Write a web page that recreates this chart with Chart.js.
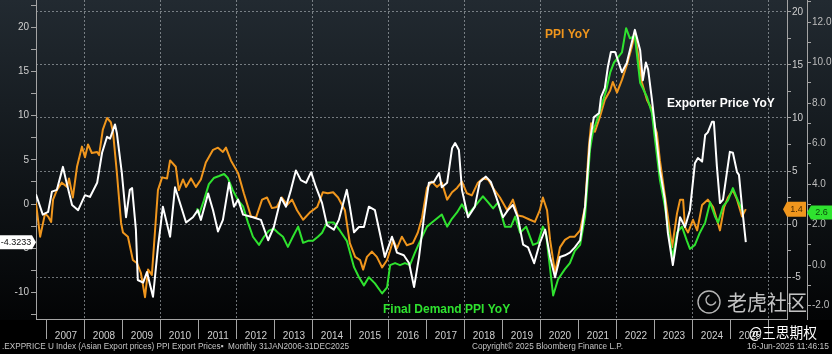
<!DOCTYPE html>
<html><head><meta charset="utf-8">
<script src="https://cdn.jsdelivr.net/npm/chart.js@4/dist/chart.umd.min.js"></script>
<style>html,body{margin:0;padding:0;background:#000;overflow:hidden}canvas{display:block}</style>
</head><body>
<canvas id="c" width="832" height="354"></canvas>
<script>
// ---- data (decimal years) ----
const exporterYears = [2006.71,2006.89,2007.03,2007.13,2007.26,2007.42,2007.50,2007.66,2007.82,2008.00,2008.13,2008.32,2008.45,2008.58,2008.66,2008.79,2008.84,2008.97,2009.08,2009.18,2009.24,2009.34,2009.39,2009.53,2009.63,2009.79,2009.92,2010.05,2010.24,2010.37,2010.66,2010.84,2010.97,2011.05,2011.24,2011.37,2011.50,2011.63,2011.79,2011.92,2012.03,2012.16,2012.42,2012.63,2012.82,2012.97,2013.16,2013.29,2013.42,2013.55,2013.68,2013.82,2013.95,2014.08,2014.24,2014.37,2014.55,2014.68,2014.89,2014.97,2015.08,2015.21,2015.34,2015.47,2015.63,2015.76,2015.89,2016.08,2016.21,2016.39,2016.53,2016.66,2016.79,2016.92,2017.05,2017.18,2017.32,2017.39,2017.53,2017.66,2017.74,2017.84,2017.92,2018.08,2018.26,2018.39,2018.55,2018.68,2018.82,2019.00,2019.13,2019.26,2019.39,2019.53,2019.66,2019.82,2019.97,2020.11,2020.24,2020.37,2020.50,2020.63,2020.76,2020.89,2021.03,2021.16,2021.29,2021.39,2021.53,2021.58,2021.68,2021.76,2021.84,2021.95,2022.13,2022.26,2022.47,2022.61,2022.68,2022.76,2022.82,2022.92,2023.05,2023.13,2023.26,2023.34,2023.47,2023.66,2023.79,2023.92,2024.05,2024.13,2024.24,2024.32,2024.39,2024.50,2024.55,2024.63,2024.71,2024.79,2024.97,2025.05,2025.16,2025.21,2025.29,2025.39];
const exporterValues = [1.1,-1.2,-0.9,1.4,1.6,4.2,2.7,-0.1,-0.7,1.0,0.8,2.4,5.8,7.6,7.4,9.0,8.0,3.5,-1.5,1.6,1.8,-2.9,-8.6,-8.9,-7.7,-10.5,-4.9,-0.3,-3.7,1.9,-2.1,-1.5,-0.7,-1.8,1.2,-0.7,-3.1,-1.8,2.4,-0.3,0.5,-1.2,-1.5,-1.8,-4.1,-2.6,0.7,-0.3,1.6,3.8,2.7,2.4,3.6,1.9,0.1,-2.4,-2.9,-1.8,1.6,-0.3,-3.2,-2.6,-2.6,-0.3,-0.7,-3.3,-6.0,-3.7,-5.5,-5.8,-6.7,-9.4,-6.0,-1.5,2.4,2.5,3.5,1.9,2.4,6.3,6.9,6.1,1.6,-1.5,-0.3,2.5,3.1,2.5,0.8,-1.5,-0.7,-0.1,-1.5,-4.6,-4.9,-6.7,-4.4,-2.9,-6.0,-8.3,-6.0,-5.8,-5.5,-4.9,-4.1,-0.3,7.2,9.8,10.3,12.1,13.1,15.5,17.2,17.2,14.9,16.0,19.7,17.4,14.0,16.0,15.2,11.8,6.9,3.8,0.5,-3.3,-6.9,-1.5,-2.6,-0.7,4.6,5.2,4.8,7.8,8.1,9.3,9.3,4.2,0.1,0.5,5.9,5.8,3.6,3.3,-0.3,-4.3233];

const ppiYears = [2006.71,2006.82,2006.95,2007.03,2007.11,2007.16,2007.26,2007.39,2007.53,2007.58,2007.68,2007.79,2007.92,2008.00,2008.08,2008.18,2008.32,2008.37,2008.47,2008.58,2008.68,2008.74,2008.84,2008.95,2009.00,2009.13,2009.26,2009.37,2009.47,2009.58,2009.66,2009.76,2009.84,2009.92,2010.03,2010.16,2010.24,2010.39,2010.47,2010.58,2010.66,2010.79,2010.92,2011.05,2011.18,2011.37,2011.50,2011.63,2011.71,2011.84,2012.03,2012.18,2012.37,2012.50,2012.66,2012.79,2012.92,2013.05,2013.18,2013.32,2013.45,2013.58,2013.74,2013.92,2014.11,2014.26,2014.39,2014.53,2014.66,2014.84,2014.97,2015.11,2015.24,2015.32,2015.42,2015.55,2015.68,2015.82,2015.95,2016.03,2016.11,2016.21,2016.34,2016.47,2016.63,2016.76,2016.87,2017.00,2017.13,2017.26,2017.39,2017.53,2017.66,2017.79,2017.92,2018.05,2018.18,2018.34,2018.47,2018.61,2018.74,2018.92,2019.11,2019.26,2019.39,2019.53,2019.71,2019.84,2019.97,2020.05,2020.16,2020.24,2020.37,2020.50,2020.63,2020.76,2020.89,2021.03,2021.16,2021.26,2021.32,2021.42,2021.55,2021.68,2021.82,2021.89,2022.00,2022.13,2022.26,2022.39,2022.47,2022.55,2022.66,2022.79,2022.92,2023.00,2023.05,2023.13,2023.24,2023.34,2023.45,2023.58,2023.66,2023.74,2023.79,2023.87,2024.00,2024.11,2024.24,2024.39,2024.53,2024.63,2024.71,2024.82,2024.92,2025.05,2025.16,2025.29,2025.39];
const ppiValues = [2.0,-1.2,1.0,0.7,0.2,2.3,3.2,3.9,3.5,4.3,2.5,5.4,7.3,6.3,7.5,6.7,6.8,6.5,8.9,10.0,9.6,8.6,4.8,0.1,-0.8,-1.2,-3.4,-3.7,-4.6,-6.9,-4.3,-4.8,-0.8,3.2,4.4,4.3,6.0,5.4,3.2,4.2,3.5,4.3,3.5,4.2,5.8,7.0,7.2,6.8,7.2,6.0,4.8,2.9,0.7,0.6,2.3,2.5,1.5,1.6,2.5,1.8,2.3,1.3,0.4,1.1,1.6,3.0,2.9,3.0,2.5,1.3,-1.8,-3.1,-3.4,-4.3,-3.1,-2.6,-3.1,-4.1,-3.4,-2.5,-1.5,-2.3,-1.2,-2.0,-1.8,-0.8,0.6,3.4,4.0,3.5,3.9,2.3,3.0,3.4,4.0,2.9,2.7,3.9,4.3,4.2,3.4,2.5,1.3,2.3,0.8,0.7,0.4,0.2,1.3,2.5,1.3,-1.5,-4.6,-2.2,-1.5,-1.2,-1.2,-0.6,1.6,7.3,9.5,8.7,10.1,11.7,12.6,13.4,12.4,13.6,15.0,16.7,18.0,16.1,13.3,11.7,10.8,9.1,8.6,6.0,3.2,0.7,-2.2,1.0,2.3,2.3,-0.3,-0.8,0.4,-0.6,1.8,2.3,1.6,0.4,-0.6,1.6,2.5,3.2,2.3,0.7,1.4];

const fdYears = [2010.95,2011.00,2011.13,2011.26,2011.39,2011.53,2011.66,2011.76,2011.89,2012.03,2012.16,2012.29,2012.42,2012.58,2012.71,2012.84,2012.97,2013.08,2013.21,2013.34,2013.47,2013.61,2013.74,2013.87,2014.00,2014.13,2014.24,2014.37,2014.55,2014.71,2014.89,2015.08,2015.21,2015.34,2015.47,2015.63,2015.82,2015.95,2016.03,2016.16,2016.29,2016.42,2016.55,2016.68,2016.82,2017.00,2017.13,2017.26,2017.39,2017.53,2017.66,2017.79,2017.92,2018.08,2018.26,2018.47,2018.61,2018.74,2018.87,2019.05,2019.21,2019.32,2019.45,2019.61,2019.79,2019.92,2020.05,2020.13,2020.32,2020.45,2020.63,2020.76,2020.89,2021.03,2021.16,2021.29,2021.37,2021.50,2021.63,2021.71,2021.82,2021.92,2022.13,2022.24,2022.34,2022.47,2022.61,2022.79,2022.92,2023.00,2023.13,2023.26,2023.39,2023.47,2023.58,2023.71,2023.84,2023.92,2024.05,2024.18,2024.32,2024.45,2024.58,2024.66,2024.79,2024.92,2025.05,2025.18,2025.32];
const fdValues = [2.8,2.5,3.2,4.0,4.3,4.4,4.5,4.3,3.7,3.2,2.9,2.1,1.4,1.0,1.4,1.7,1.8,1.6,1.4,0.9,1.4,1.9,1.1,1.2,1.2,1.4,1.6,2.1,2.1,1.7,1.2,-0.1,-0.6,-1.0,-0.6,-0.9,-1.4,-1.1,0.0,0.1,0.0,0.1,0.0,0.6,1.2,1.9,2.1,2.3,2.5,1.9,2.3,2.6,3.0,2.5,2.9,3.4,3.1,2.8,3.1,1.9,1.9,2.4,1.6,1.9,1.0,1.1,1.9,1.6,-1.5,-0.7,-0.2,0.1,0.7,1.0,2.4,5.7,6.6,7.3,8.1,8.6,9.5,10.0,10.5,11.7,11.2,11.3,9.0,8.3,7.5,6.2,4.2,2.9,1.2,0.4,1.6,1.9,1.2,0.8,1.0,1.6,2.1,3.1,2.4,2.1,2.9,3.2,3.8,3.2,2.6];

// tick positions / labels
const yearTicks = [2007,2008,2009,2010,2011,2012,2013,2014,2015,2016,2017,2018,2019,2020,2021,2022,2023,2024,2025,2026];
const yearLabels = ['2007','2008','2009','2010','2011','2012','2013','2014','2015','2016','2017','2018','2019','2020','2021','2022','2023','2024','2025',''];
const leftTicks = [-12.5,-10,-7.5,-5,-2.5,0,2.5,5,7.5,10,12.5,15,17.5,20,22.5];
const ppiTicks = [-7.5,-5,-2.5,0,2.5,5,7.5,10,12.5,15,17.5,20];
const fdTicks = [-2,-1,0,1,2,3,4,5,6,7,8,9,10,11,12,13];

const FONT = "'Liberation Sans', Arial, sans-serif";
const GRID = 'rgba(175,180,186,0.62)';
const AXIS = '#a4a4a4';
const TICKTXT = '#cfcfcf';
const ORANGE = '#f0961d', GREEN = '#2fe22f', WHITE = '#ffffff';

const bgPlugin = {
  id: 'bg',
  beforeDraw(chart) {
    const {ctx, width, height} = chart;
    const g = ctx.createLinearGradient(0, 0, 0, 320);
    g.addColorStop(0, '#222a31');
    g.addColorStop(0.5, '#12171b');
    g.addColorStop(1, '#030405');
    ctx.save();
    ctx.fillStyle = '#000'; ctx.fillRect(0, 0, width, height);
    ctx.fillStyle = g; ctx.fillRect(0, 0, width, 320);
    ctx.restore();
  }
};

function tag(ctx, yc, xLeft, w, h, tipX, fill, text, tcol) {
  ctx.save();
  ctx.beginPath();
  const top = yc - h / 2, bot = yc + h / 2;
  if (tipX > xLeft + w) {
    ctx.moveTo(xLeft, top); ctx.lineTo(xLeft + w, top); ctx.lineTo(tipX, yc); ctx.lineTo(xLeft + w, bot); ctx.lineTo(xLeft, bot);
  } else {
    ctx.moveTo(tipX, yc); ctx.lineTo(xLeft, top); ctx.lineTo(xLeft + w, top); ctx.lineTo(xLeft + w, bot); ctx.lineTo(xLeft, bot);
  }
  ctx.closePath();
  ctx.fillStyle = fill; ctx.fill();
  ctx.fillStyle = tcol; ctx.font = '9px ' + FONT; ctx.textAlign = 'center'; ctx.textBaseline = 'middle';
  ctx.fillText(text, xLeft + w / 2, yc + 0.5);
  ctx.restore();
}

const overlayPlugin = {
  id: 'overlay',
  afterDraw(chart) {
    const ctx = chart.ctx;
    const s = chart.scales;
    ctx.save();
    ctx.font = 'bold 12px ' + FONT; ctx.textBaseline = 'middle'; ctx.textAlign = 'left';
    ctx.fillStyle = ORANGE; ctx.fillText('PPI YoY', 545, 35);
    ctx.fillStyle = WHITE; ctx.fillText('Exporter Price YoY', 667, 104, 114);
    ctx.fillStyle = GREEN; ctx.fillText('Final Demand PPI YoY', 383, 310, 133);

    const lastW = exporterValues[exporterValues.length - 1];
    const lastP = ppiValues[ppiValues.length - 1];
    const lastF = fdValues[fdValues.length - 1];
    tag(ctx, s.yL.getPixelForValue(lastW), 0, 32, 14, 36, '#ffffff', lastW.toFixed(4), '#111');
    tag(ctx, s.y1.getPixelForValue(lastP), 787, 19, 15, 783, ORANGE, lastP.toFixed(1), '#4a2a00');
    tag(ctx, s.y2.getPixelForValue(lastF), 811, 21, 14, 807, GREEN, lastF.toFixed(1), '#0a4a0a');

    ctx.font = '8.5px ' + FONT; ctx.fillStyle = '#c4c4c4'; ctx.textBaseline = 'middle'; ctx.textAlign = 'left';
    ctx.fillText('.EXPPRICE U Index (Asian Export prices) PPI Export Prices\u25AA  Monthly 31JAN2006-31DEC2025', 2, 347, 347);
    ctx.fillText('Copyright\u00A9 2025 Bloomberg Finance L.P.', 472, 347, 151);
    ctx.fillText('16-Jun-2025 11:46:15', 747, 347, 82);

    ctx.strokeStyle = 'rgba(225,225,225,0.8)'; ctx.lineWidth = 1.4;
    ctx.beginPath(); ctx.arc(709, 302, 11, 0, Math.PI * 2); ctx.stroke();
    ctx.beginPath(); ctx.arc(711, 300, 5, 0.3, Math.PI * 1.4); ctx.stroke();
    ctx.font = '21px "Noto Sans CJK SC", sans-serif'; ctx.fillStyle = 'rgba(228,228,228,0.85)';
    ctx.fillText('老虎社区', 727, 302, 80);
    ctx.font = '15px "Noto Sans CJK SC", sans-serif'; ctx.fillStyle = '#ffffff';
    ctx.fillText('@三思期权', 749, 332, 68);
    ctx.restore();
  }
};

function fixTicks(list) { return s => { s.ticks = list.map(v => ({value: v})); }; }

new Chart(document.getElementById('c'), {
  type: 'line',
  data: {
    datasets: [
      { label: 'Exporter Price YoY', yAxisID: 'yL', order: 0, borderColor: WHITE,
        data: exporterYears.map((x, i) => ({x, y: exporterValues[i]})) },
      { label: 'Final Demand PPI YoY', yAxisID: 'y2', order: 1, borderColor: GREEN,
        data: fdYears.map((x, i) => ({x, y: fdValues[i]})) },
      { label: 'PPI YoY', yAxisID: 'y1', order: 2, borderColor: ORANGE,
        data: ppiYears.map((x, i) => ({x, y: ppiValues[i]})) }
    ]
  },
  options: {
    responsive: false, animation: false, events: [],
    layout: { padding: 0 },
    elements: { point: { radius: 0 }, line: { borderWidth: 2, tension: 0, borderJoinStyle: 'round' } },
    plugins: { legend: { display: false }, tooltip: { enabled: false } },
    scales: {
      x: {
        type: 'linear', min: 2006.711, max: 2026.474,
        afterBuildTicks: fixTicks(yearTicks),
        afterFit: s => { s.height = 35; s.paddingLeft = 0; s.paddingRight = 0; },
        ticks: { autoSkip: false, maxRotation: 0, minRotation: 0, labelOffset: 19, padding: -9,
          color: TICKTXT, font: { family: FONT, size: 10 },
          callback: (v) => { const i = yearTicks.indexOf(v); return i >= 0 ? yearLabels[i] : ''; } },
        grid: { color: c => (c.tick && c.tick.value % 2 === 0) ? GRID : 'rgba(0,0,0,0)',
          tickColor: AXIS, tickLength: 20, lineWidth: 1 },
        border: { color: AXIS, width: 1, dash: [2, 2] }
      },
      yL: {
        type: 'linear', position: 'left', min: -13.01, max: 23.08,
        afterBuildTicks: fixTicks(leftTicks),
        afterFit: s => { s.width = 36; s.paddingTop = 0; s.paddingBottom = 0; },
        ticks: { autoSkip: false, padding: 2, color: TICKTXT, font: { family: FONT, size: 10 },
          callback: v => (v % 5 === 0 ? String(v) : '') },
        grid: { drawOnChartArea: false, tickLength: 5, tickColor: AXIS },
        border: { color: AXIS, width: 1 }
      },
      y1: {
        type: 'linear', position: 'right', weight: 0, min: -8.96, max: 21.13,
        afterBuildTicks: fixTicks(ppiTicks),
        afterFit: s => { s.width = 20; s.paddingTop = 0; s.paddingBottom = 0; },
        ticks: { autoSkip: false, padding: 1, color: TICKTXT, font: { family: FONT, size: 10 },
          callback: v => (v % 5 === 0 ? String(v) : '') },
        grid: { drawOnChartArea: true, color: c => (c.tick && c.tick.value % 5 === 0) ? GRID : 'rgba(0,0,0,0)',
          tickLength: 4, tickColor: AXIS },
        border: { color: AXIS, width: 1, dash: [2, 2] }
      },
      y2: {
        type: 'linear', position: 'right', weight: 1, min: -2.66, max: 13.09,
        afterBuildTicks: fixTicks(fdTicks),
        afterFit: s => { s.width = 25; s.paddingTop = 0; s.paddingBottom = 0; },
        ticks: { autoSkip: false, padding: 1, color: '#bdbdbd', font: { family: FONT, size: 10 },
          callback: v => (v % 2 === 0 ? v.toFixed(1) : '') },
        grid: { drawOnChartArea: false, tickLength: 4, tickColor: AXIS },
        border: { color: AXIS, width: 1 }
      }
    }
  },
  plugins: [bgPlugin, overlayPlugin]
});
</script>
</body></html>
